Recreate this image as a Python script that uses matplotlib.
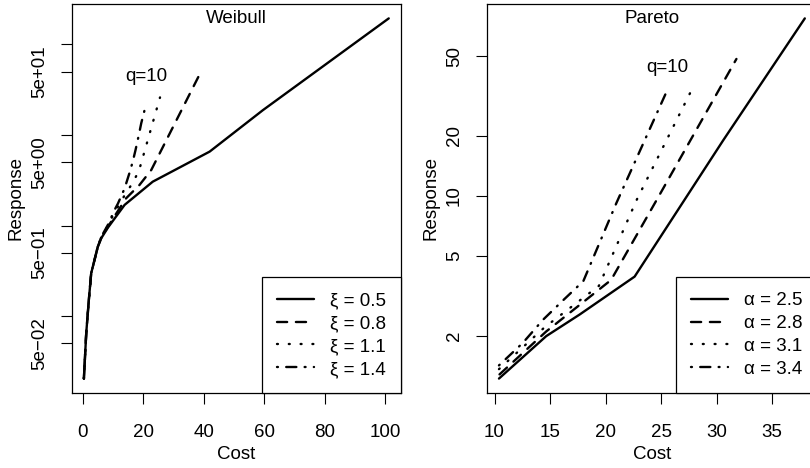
import matplotlib.pyplot as plt
from matplotlib.ticker import FixedLocator, NullLocator

plt.rcParams['font.family'] = ['Liberation Sans', 'DejaVu Sans']
plt.rcParams['font.size'] = 13.5

# Weibull model: cost vs response, one curve per shape parameter
weibull_shape = [0.5, 0.8, 1.1, 1.4]
weibull_cost = [
    [0.34, 1.12, 1.98, 2.76, 4.97, 6.08, 8.3, 13.8, 23.1, 41.9, 59.5, 101.1],
    [0.34, 1.12, 1.98, 2.76, 4.97, 6.08, 8.3, 11.0, 14.3, 18.7, 22.6, 38.2],
    [0.34, 1.12, 1.98, 2.76, 4.97, 6.08, 8.3, 10.5, 14.3, 16.0, 17.6, 19.0, 25.5],
    [0.34, 1.12, 1.98, 2.76, 4.97, 6.08, 8.3, 10.5, 11.6, 13.8, 15.4, 16.5, 17.4, 18.5, 19.3, 20.6],
]
weibull_resp = [
    [0.0204, 0.065, 0.151, 0.298, 0.586, 0.724, 0.95, 1.69, 3.05, 6.55, 18.8, 194],
    [0.0204, 0.065, 0.151, 0.298, 0.586, 0.73, 0.97, 1.35, 2.0, 2.8, 4.1, 44],
    [0.0204, 0.065, 0.151, 0.298, 0.59, 0.74, 1.0, 1.4, 2.3, 2.8, 3.5, 4.55, 26],
    [0.0204, 0.065, 0.151, 0.298, 0.59, 0.75, 1.02, 1.49, 1.75, 2.57, 3.8, 5.1, 6.8, 10, 13.5, 20],
]
weibull_yticks = [0.05, 0.1, 0.5, 1, 5, 10, 50, 100]
weibull_ylabels = ['5e\u221202', '', '5e\u221201', '', '5e+00', '', '5e+01', '']

# Pareto model
pareto_alpha = [2.5, 2.8, 3.1, 3.4]
pareto_cost = [
    [10.4, 14.66, 17.66, 22.62, 30.6, 37.95],
    [10.45, 14.66, 20.5, 24.58, 31.79],
    [10.4, 14.5, 19.4, 22.78, 28.03],
    [10.4, 12.55, 14.36, 16.16, 18.0, 20.97, 25.48],
]
pareto_resp = [
    [1.22, 1.99, 2.55, 3.95, 19.0, 77.4],
    [1.28, 2.1, 3.8, 9.5, 48.5],
    [1.36, 2.2, 3.55, 9.5, 36.4],
    [1.42, 1.84, 2.4, 3.0, 3.75, 9.2, 33.1],
]
pareto_yticks = [2, 5, 10, 20, 50]

# solid, dashed, dotted, dot-dash (round caps lengthen the "on" parts)
line_styles = ['solid', (0, (4.3, 3.7)), (0, (0.4, 4.6)), (0, (0.4, 3.5, 4.3, 3.5))]


def draw_panel(ax, costs, resps, labels, title, q_xy):
    for c, r, ls, lab in zip(costs, resps, line_styles, labels):
        ax.plot(c, r, color='black', lw=1.7, linestyle=ls, label=lab,
                dash_capstyle='round', solid_capstyle='round')
    ax.set_yscale('log')
    ax.margins(x=0.04, y=0.04)
    ax.yaxis.set_minor_locator(NullLocator())
    ax.tick_params(direction='out', length=8, width=0.8, colors='black')
    ax.tick_params(axis='x', pad=14)
    ax.tick_params(axis='y', pad=9)
    for sp in ax.spines.values():
        sp.set_linewidth(0.9)
    ax.set_xlabel('Cost', labelpad=4)
    ax.set_ylabel('Response', labelpad=5)
    ax.annotate(title, xy=(0.5, 1), xycoords='axes fraction', xytext=(0, -4),
                textcoords='offset points', ha='center', va='top')
    ax.text(q_xy[0], q_xy[1], 'q=10', ha='center', va='center')
    leg = ax.legend(loc='lower right', bbox_to_anchor=(1, 0), borderaxespad=0,
                    fancybox=False, edgecolor='black', framealpha=1,
                    handlelength=1.95, handletextpad=0.85, labelspacing=0.31,
                    borderpad=0.8)
    leg.get_frame().set_linewidth(0.9)


fig = plt.figure(figsize=(8.1, 4.68), dpi=100)
ax1 = fig.add_axes([0.0885, 0.1603, 0.4065, 0.8312])
ax2 = fig.add_axes([0.6009, 0.1603, 0.4078, 0.8312])

draw_panel(ax1, weibull_cost, weibull_resp,
           ['\u03be = %.1f' % s for s in weibull_shape], 'Weibull', (21, 44))
ax1.xaxis.set_major_locator(FixedLocator([0, 20, 40, 60, 80, 100]))
ax1.yaxis.set_major_locator(FixedLocator(weibull_yticks))
ax1.set_yticklabels(weibull_ylabels, rotation=90, va='center')

draw_panel(ax2, pareto_cost, pareto_resp,
           ['\u03b1 = %.1f' % a for a in pareto_alpha], 'Pareto', (25.6, 44))
ax2.xaxis.set_major_locator(FixedLocator([10, 15, 20, 25, 30, 35]))
ax2.yaxis.set_major_locator(FixedLocator(pareto_yticks))
ax2.set_yticklabels([str(v) for v in pareto_yticks], rotation=90, va='center')

fig.savefig('out.png', dpi=100)
